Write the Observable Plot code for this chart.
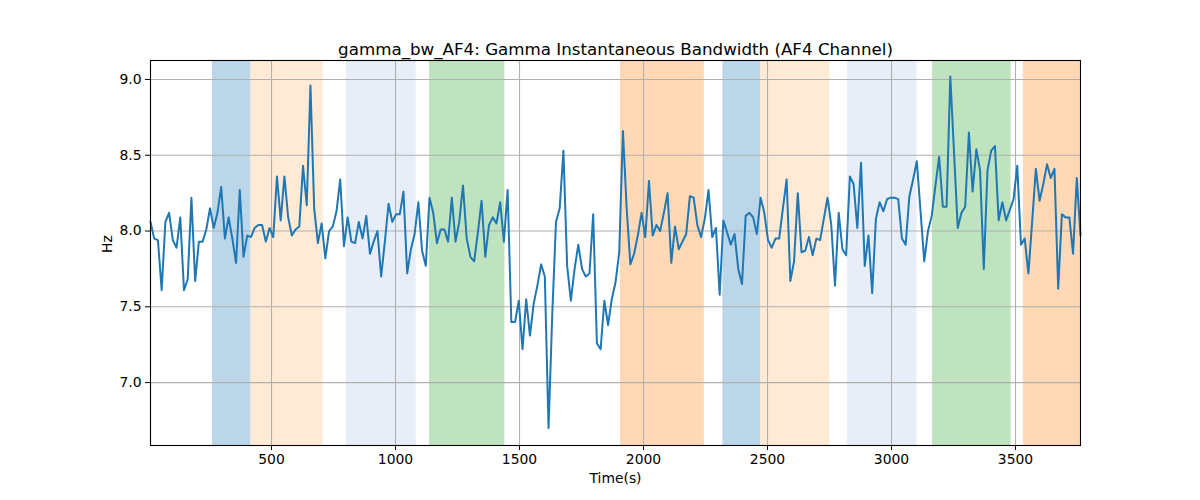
<!DOCTYPE html>
<html>
<head>
<meta charset="utf-8">
<script src="https://cdn.jsdelivr.net/npm/d3@7"></script>
<script src="https://cdn.jsdelivr.net/npm/@observablehq/plot@0.6"></script>
<style>
  html, body { margin: 0; padding: 0; background: #fff; }
  #chart { width: 1200px; height: 500px; }
</style>
</head>
<body>
<div id="chart"></div>
<script>
const titleText = "gamma_bw_AF4: Gamma Instantaneous Bandwidth (AF4 Channel)";
const xLabel = "Time(s)";
const yLabel = "Hz";

const tStart = 12;
const tStep = 15;

const values = [
  8.06, 7.95, 7.94, 7.61, 8.06, 8.12, 7.94, 7.89, 8.09, 7.61, 7.68, 8.22, 7.67, 7.93, 7.93, 8.01,
  8.15, 8.02, 8.12, 8.29, 7.95, 8.09, 7.95, 7.79, 8.27, 7.83, 7.97, 7.96, 8.02, 8.04, 8.04, 7.93,
  8.02, 7.96, 8.36, 8.07, 8.36, 8.09, 7.97, 8.01, 8.03, 8.43, 8.17, 8.96, 8.15, 7.92, 8.05, 7.82,
  8.00, 8.03, 8.13, 8.34, 7.90, 8.09, 7.93, 7.92, 8.06, 7.95, 8.10, 7.85, 7.93, 8.00, 7.70,
  7.93, 8.18, 8.06, 8.11, 8.11, 8.26, 7.72, 7.88, 7.98, 8.19, 7.87, 7.77, 8.22, 8.12, 7.92, 8.01,
  8.01, 7.93, 8.22, 7.93, 8.06,
  8.30, 7.95, 7.83, 7.80, 7.99, 8.20, 7.83, 8.04, 8.09, 8.05, 8.19, 7.93, 8.27, 7.40, 7.40, 7.54,
  7.22, 7.55, 7.31, 7.52, 7.64, 7.78, 7.70, 6.70, 7.45, 8.06, 8.15, 8.53, 7.77, 7.54, 7.75, 7.91,
  7.75, 7.70, 7.72, 8.11, 7.26, 7.22, 7.54, 7.38, 7.55, 7.66, 7.86,
  8.66, 8.15, 7.78, 7.85, 7.97, 8.12, 7.96, 8.33, 7.97, 8.04, 8.00, 8.12, 8.25, 7.79, 8.03, 7.88,
  7.93, 7.98, 8.23, 8.22, 8.04, 7.96, 8.08, 8.27, 7.96, 8.02, 7.58, 8.07, 7.99, 7.91, 7.98, 7.75,
  7.65, 8.10, 8.12, 8.09, 7.98, 8.22,
  8.12, 7.94, 7.89, 7.95, 7.95, 8.15, 8.34, 7.67, 7.80, 8.25,
  7.86, 7.87, 7.96, 7.84, 7.95, 7.94, 8.08, 8.22, 8.04, 7.64,
  8.12, 7.88, 7.84, 8.36, 8.31, 8.02, 8.45, 7.77, 7.97, 7.59,
  8.08, 8.19, 8.13, 8.21, 8.22, 8.22, 8.21, 7.95, 7.91, 8.23,
  8.34, 8.46, 8.13, 7.80, 8.00, 8.10, 8.30, 8.49, 8.16, 8.16,
  9.02, 8.52, 8.02, 8.12, 8.16, 8.65, 8.26, 8.54, 8.40, 7.75,
  8.40, 8.53, 8.56, 8.07, 8.19, 8.07, 8.14, 8.21, 8.43, 7.91,
  7.95, 7.72, 8.06, 8.41, 8.20, 8.31, 8.44, 8.35, 8.41, 7.62,
  8.11, 8.09, 8.09, 7.85, 8.35, 7.97
];

const bandStarts = [262, 416, 802, 1137, 1907, 2320, 2472, 2822, 3165, 3532];
const bandEnds   = [416, 708, 1083, 1441, 2245, 2472, 2751, 3103, 3482, 3762];
const bandColors = ["#1f77b4", "#ffbb78", "#aec7e8", "#2ca02c", "#ff7f0e",
                    "#1f77b4", "#ffbb78", "#aec7e8", "#2ca02c", "#ff7f0e"];

const xTicks = [500, 1000, 1500, 2000, 2500, 3000, 3500];
const yTicks = [7.0, 7.5, 8.0, 8.5, 9.0];

const series = values.map((v, i) => ({t: tStart + i * tStep, v}));
const bands = bandStarts.map((s, i) => ({x1: s, x2: bandEnds[i], c: bandColors[i]}));

const font = "DejaVu Sans, sans-serif";
const tStartD = series[0].t, tEndD = series[series.length - 1].t;

const chart = Plot.plot({
  width: 1200,
  height: 500,
  marginLeft: 150,
  marginRight: 120,
  marginTop: 60,
  marginBottom: 55,
  style: {fontFamily: font, fontSize: "13.9px", color: "black", background: "white"},
  x: {domain: [tStartD, tEndD]},
  y: {domain: [6.585, 9.125]},
  marks: [
    Plot.rect(bands, {x1: "x1", x2: "x2", fill: "c", fillOpacity: 0.3}),
    Plot.gridX(xTicks, {stroke: "#b0b0b0", strokeOpacity: 1, strokeWidth: 1.1}),
    Plot.gridY(yTicks, {stroke: "#b0b0b0", strokeOpacity: 1, strokeWidth: 1.1}),
    Plot.line(series, {x: "t", y: "v", stroke: "#1f77b4", strokeWidth: 2}),
    Plot.frame({stroke: "black", strokeWidth: 1.1}),
    Plot.axisX(xTicks, {tickSize: 5, tickPadding: 4, fontSize: 13.9, label: null, stroke: "black",
                        tickFormat: d3.format("d")}),
    Plot.axisY(yTicks, {tickSize: 5, tickPadding: 4, fontSize: 13.9, label: null, stroke: "black",
                        tickFormat: d3.format(".1f")}),
    Plot.text([titleText], {frameAnchor: "top", lineAnchor: "bottom", dy: -6, fontSize: 16.7, fill: "black"}),
    Plot.text([xLabel], {frameAnchor: "bottom", dy: 37, fontSize: 13.9, fill: "black"}),
    Plot.text([yLabel], {frameAnchor: "left", dx: -43, rotate: -90, fontSize: 13.9, fill: "black"})
  ]
});
document.getElementById("chart").appendChild(chart);
</script>
</body>
</html>
